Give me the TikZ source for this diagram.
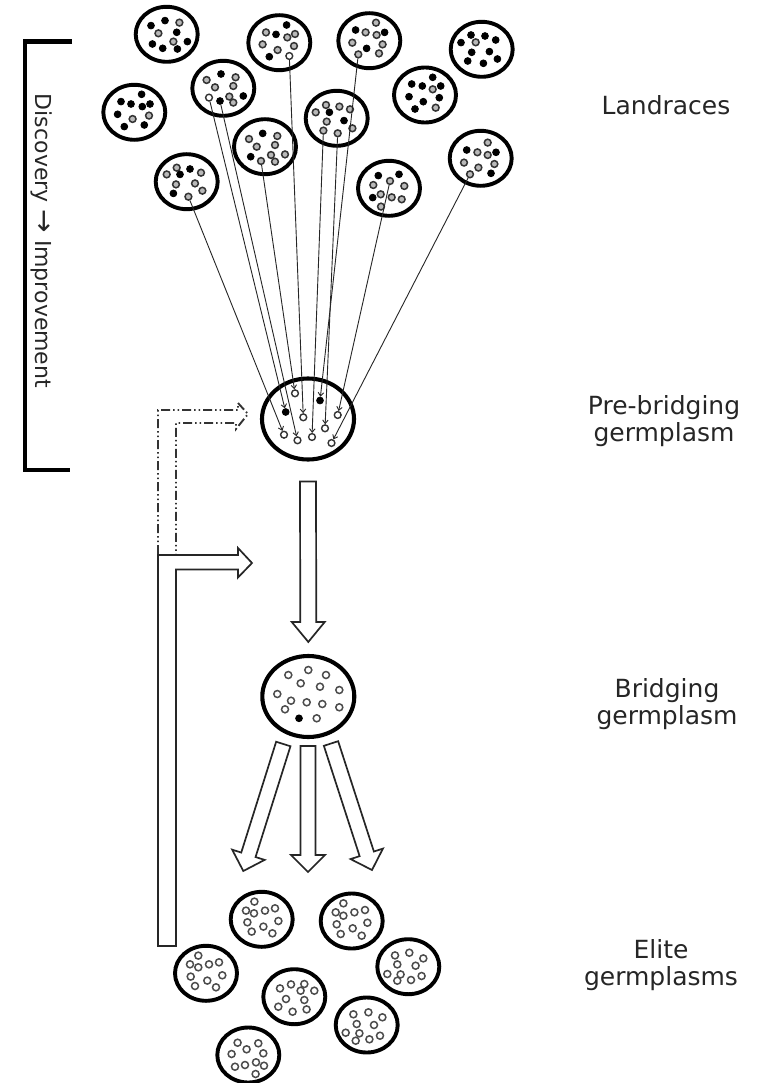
\documentclass[tikz,border=0pt]{standalone}
\usepackage{fontspec}
\setmainfont{DejaVu Sans}
\usetikzlibrary{shapes.geometric,arrows.meta,calc}
\tikzset{
  pop/.style={ellipse, draw=black, line width=3.9pt, minimum width=62pt, minimum height=55pt, inner sep=0pt},
  bigpop/.style={ellipse, draw=black, line width=4.1pt, minimum width=92pt, minimum height=81pt, inner sep=0pt},
  dk/.style={circle, inner sep=0pt, minimum size=6.8pt, fill=black, draw=black, line width=0.8pt},
  gr/.style={circle, inner sep=0pt, minimum size=6.8pt, fill=gray!55, draw=black!80, line width=1.5pt},
  ho/.style={circle, inner sep=0pt, minimum size=6.8pt, fill=white, draw=black!80, line width=1.4pt},
  el/.style={circle, inner sep=0pt, minimum size=7pt, fill=white, draw=black!70, line width=1.5pt},
  lnk/.style={line width=0.9pt, draw=black!85, -{Straight Barb[length=3.5pt,width=5.5pt]}},
  blockarrow/.style={draw=black!85, line width=1.7pt, fill=white, line join=miter},
  fbdash/.style={line width=1.9pt, draw=black!80, dash pattern=on 9pt off 3pt on 1.5pt off 3pt on 1.5pt off 3pt},
  lbl/.style={align=center, text=black!85, font=\fontsize{25}{27.5}\selectfont, inner sep=0pt},
  bracketline/.style={line width=4.8pt, draw=black}
}
\newcommand\population[5]{%
  \node[#4] (#1) at (#2,#3) {};
  \foreach \dx/\dy/\st [count=\i] in {#5} {
    \node[\st] (#1d\i) at ({#2+(\dx)},{#3+(\dy)}) {};
  }%
}
\newcommand\blockarr[5]{%
  \draw[blockarrow] let \p1=(#1), \p2=(#2), \n1={atan2(\y2-\y1,\x2-\x1)} in
    ($(\p1)+(\n1+90:#3pt)$) -- ($(\p2)+(\n1+180:#5pt)+(\n1+90:#3pt)$)
    -- ($(\p2)+(\n1+180:#5pt)+(\n1+90:#4pt)$) -- (\p2)
    -- ($(\p2)+(\n1+180:#5pt)+(\n1-90:#4pt)$) -- ($(\p2)+(\n1+180:#5pt)+(\n1-90:#3pt)$)
    -- ($(\p1)+(\n1-90:#3pt)$) -- cycle;
}
\begin{document}
\begin{tikzpicture}[x=1pt,y=-1pt]
\fill[white] (0,0) rectangle (759,1083);
\useasboundingbox (0,0) rectangle (759,1083);

% ---------- Landraces ----------
\population{L1}{166.7}{34.3}{pop}{-15.7/-8.7/dk, -1.7/-13.7/dk, 12.7/-11.7/gr, -8.3/-1/gr, 10/-2/dk, -14.3/9.7/dk, -4/14/dk, 6.7/7.3/gr, 10.7/14.7/dk, 20.7/7.3/dk}
\population{L2}{279.3}{42.7}{pop}{7.3/-17.7/dk, -13.3/-10.3/gr, -3.3/-8.3/dk, 8/-5.3/gr, 15.7/-8.7/gr, -16.7/1.7/gr, -1.7/7.3/gr, 14.7/3.3/gr, -10/14/dk, 10/13.3/ho}
\population{L3}{369.3}{40.7}{pop}{6.7/-18/gr, -13.7/-10.7/dk, -3.7/-8.3/gr, 7.3/-5.7/gr, 15.3/-8.3/dk, -17/2/gr, -2.7/7.7/dk, 13.3/3.7/gr, -11/13.7/gr, 9.7/12.7/gr}
\population{L4}{481.7}{49.3}{pop}{-10.7/-14.3/dk, 3.3/-13.3/dk, 14/-9.3/dk, -20.7/-6.7/dk, -6/-7/gr, -10/3/dk, 7.7/2.3/dk, -14/11.7/dk, 1.7/14/dk, 15.7/9.7/dk}
\population{L5}{223.3}{88.3}{pop}{-16.7/-8.3/gr, -2.3/-14.3/dk, 12.3/-11/gr, -8.3/-1/gr, 10/-2.3/gr, -14.3/9.3/ho, -3.3/12.7/dk, 6/8.3/gr, 10/14.3/gr, 20/7.7/dk}
\population{L6}{134.3}{112.3}{pop}{7.3/-18/dk, -13.3/-10.7/dk, -3.3/-8.3/dk, 8/-5.7/dk, 15.7/-8.3/dk, -16.7/2/dk, -1.7/6.7/gr, 14.7/3.3/gr, -10/14.3/dk, 10/12.7/dk}
\population{L7}{425}{95}{pop}{7.7/-17.7/dk, -13.3/-11/dk, -2.7/-9/dk, 7.7/-5.7/gr, 15.7/-9/dk, -16/1.7/dk, -1.7/6.7/dk, 14.3/2.7/dk, -10/14/dk, 10.7/12.7/gr}
\population{L8}{336.7}{118.3}{pop}{-21/-6/gr, -10.7/-13.3/gr, 2.7/-11.7/gr, 13.3/-9/gr, -7.3/-6/dk, -10/3.3/gr, 7.3/2.3/dk, -13.3/12.3/gr, 1/15/gr, 15.7/10/gr}
\population{L9}{265}{146.7}{pop}{-16/-7.7/gr, -2.3/-13.3/dk, 12.3/-10.7/gr, -8.3/0/gr, 10/-1.7/gr, -14.3/10/dk, -4/14.3/gr, 6/8.3/gr, 10/15/gr, 20/7.7/gr}
\population{L10}{186.7}{181.7}{pop}{-10/-14/gr, 3.3/-12.7/dk, 14.3/-9/gr, -20/-7.3/gr, -6.7/-7.3/dk, -10.7/2.7/gr, 8.3/1.7/gr, -13.3/11.7/dk, 1.7/15/gr, 15.7/9/gr}
\population{L11}{480.7}{158.3}{pop}{7/-15.7/gr, -14/-8.3/dk, -3.3/-6/gr, 7/-3.3/gr, 15.3/-6/dk, -16.7/4.3/gr, -2.3/9.3/gr, 13.7/5.7/gr, -10.7/16/gr, 10.3/15/dk}
\population{L12}{389}{188.3}{pop}{-10.7/-12.7/dk, 1/-7.3/gr, 10/-14/dk, -15.7/-3.3/gr, 15.3/-2.3/gr, -8.3/6/gr, -16.3/9.3/dk, 2.7/9/gr, 12.7/11/gr, -8/18.3/gr}

% ---------- Pre-bridging ----------
\node[bigpop] (P) at (308,419) {};
\node[ho] (T1) at (295,393.3) {};
\node[dk] (T2) at (285.7,412) {};
\node[ho] (T3) at (303.3,417.3) {};
\node[dk] (T4) at (320,400.5) {};
\node[ho] (T5) at (337.7,415) {};
\node[ho] (T6) at (325,428.3) {};
\node[ho] (T7) at (284,434.7) {};
\node[ho] (T8) at (297.5,440.3) {};
\node[ho] (T9) at (312,437) {};
\node[ho] (T10) at (331.5,443) {};

\draw[lnk] (L10d9) -- (T7);
\draw[lnk] (L5d6) -- (T2);
\draw[lnk] (L5d7) -- (T8);
\draw[lnk] (L9d7) -- (T1);
\draw[lnk] (L2d10) -- (T3);
\draw[lnk] (L8d8) -- (T9);
\draw[lnk] (L8d9) -- (T6);
\draw[lnk] (L3d9) -- (T4);
\draw[lnk] (L12d2) -- (T5);
\draw[lnk] (L11d9) -- (T10);

% ---------- Bridging ----------
\population{B}{308.3}{696.5}{bigpop}{-20/-21.5/el, 0/-26.5/el, 17.7/-21.5/el, -7.6/-13.2/el, 11.7/-9.8/el, 31/-6.5/el, -31/-2.5/el, -17.3/4.2/el, -1.6/5.8/el, 14/7.5/el, 31/10.8/el, -23.3/12.8/el, -9.3/21.8/dk, 8.4/21.8/el}

% ---------- Block arrows ----------
\coordinate (pa1) at ($(P.south)+(0,20)$);
\coordinate (pa2) at ($(B.north)+(0,-12)$);
\blockarr{pa1}{pa2}{8}{16.5}{20}
\coordinate (ba1) at (283.3,744);
\coordinate (ba2) at (243.3,871);
\coordinate (bb1) at (308,746);
\coordinate (bb2) at (308,872);
\coordinate (bc1) at (331,743.5);
\coordinate (bc2) at (372,870);
\blockarr{ba1}{ba2}{7.5}{17}{17}
\blockarr{bb1}{bb2}{7.5}{17}{17}
\blockarr{bc1}{bc2}{7.5}{17}{17}

% ---------- Feedback arrows ----------
\draw[fbdash] (158,554) -- (158,410) -- (238,410) -- (238,403) -- (248,414) -- (236,429) -- (236,423) -- (176,423) -- (176,554);
\draw[blockarrow] (158,946) -- (158,555) -- (238,555) -- (238,548) -- (252,563) -- (238,577.5) -- (238,569.5) -- (176,569.5) -- (176,946) -- cycle;

% ---------- Elite germplasms ----------
\population{E1}{261.7}{919.3}{pop}{-7.3/-17.7/el, -15.7/-8.7/el, -7.7/-6/el, 3.3/-8.7/el, 13.3/-11/el, -14.3/3/el, 16.7/1.7/el, -10/12.3/el, 1.7/7.3/el, 10.7/14/el}
\population{E2}{351.7}{921}{pop}{-8.3/-17.7/el, -16/-8.7/el, -8.3/-5.3/el, 2.7/-8.7/el, 13.3/-11/el, -15/3.3/el, 15.7/1.7/el, -11/13/el, 1/7.3/el, 10/14.7/el}
\population{E3}{206}{973.3}{pop}{-7.7/-17.7/el, -16/-9/el, -7.7/-6/el, 3/-9/el, 13/-11/el, -15.3/3.3/el, 16.3/2/el, -11/12.7/el, 1.3/7.3/el, 10/14/el}
\population{E4}{408.3}{966.7}{pop}{-13.3/-11.3/el, 1/-14/el, 15/-8.3/el, -11/-2.3/el, 7.3/-1/el, -21/7.3/el, -7.7/7.7/el, -11/14/el, 2.7/13.3/el, 13.3/9.3/el}
\population{E5}{294.3}{996.7}{pop}{-14.3/-8.3/el, -3.3/-12.3/el, 10/-12.7/el, 6.3/-6/el, 20/-6/el, -8.3/2.3/el, 10/3.3/el, -16/10/el, -1.7/15/el, 12.3/12.7/el}
\population{E6}{366.7}{1025}{pop}{-13.3/-10.7/el, 1.7/-12.7/el, 15.7/-7.7/el, -10/-1/el, 7.3/0/el, -21/7.7/el, -7.3/8.3/el, -11/15.7/el, 2.7/14.3/el, 13.3/10.7/el}
\population{E7}{248.3}{1055}{pop}{-10.7/-12.3/el, 10/-11.7/el, -1.7/-5.7/el, -16.7/-1/el, 15/-1.7/el, -13.3/11.7/el, -3.3/10/el, 7.7/7.3/el, 15.7/10.7/el, 7.3/19/el}

% ---------- Bracket and labels ----------
\draw[bracketline] (72,41.5) -- (25,41.5) -- (25,470) -- (70,470);
\node[lbl, font=\fontsize{22}{26}\selectfont, rotate=-90] (disc) at (42,241) {Discovery {\fontsize{28}{26}\selectfont →} Improvement};
\node[lbl] (tland) at (666,105) {Landraces};
\node[lbl] (tpre) at (664,421) {Pre-bridging\\germplasm};
\node[lbl] (tbri) at (667,704) {Bridging\\germplasm};
\node[lbl] (telite) at (661,965) {Elite\\germplasms};
\end{tikzpicture}
\end{document}
